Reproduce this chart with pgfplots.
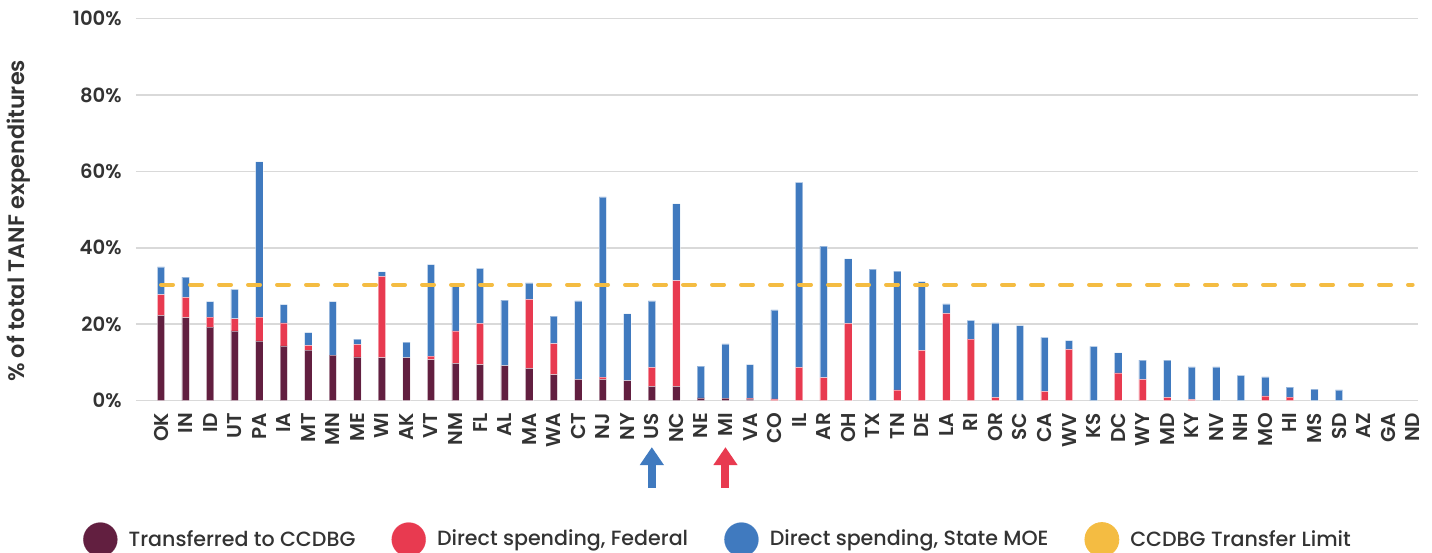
\documentclass[border=0pt]{standalone}
\usepackage{pgfplots}
\pgfplotsset{compat=1.18}
\usepackage{pgfplotstable}
\usetikzlibrary{arrows.meta}
\usepackage{fontspec}
\setmainfont{Poppins}[UprightFont=* Medium, BoldFont=* SemiBold]
\definecolor{cMaroon}{RGB}{98,31,64}
\definecolor{cRed}{RGB}{232,58,80}
\definecolor{cBlue}{RGB}{64,122,191}
\definecolor{cYellow}{RGB}{244,188,66}
\definecolor{cGrid}{RGB}{217,217,217}
\definecolor{cText}{RGB}{51,51,51}

\pgfplotstableread{
x T F S
0 22.3 5.4 7.3
1 21.7 5.3 5.3
2 19.2 2.6 4.1
3 18.2 3.2 7.7
4 15.6 6.2 40.7
5 14.3 6.0 4.8
6 13.2 1.2 3.4
7 11.9 0.0 14.0
8 11.4 3.3 1.4
9 11.2 21.3 1.2
10 11.2 0.0 4.1
11 10.7 0.9 24.0
12 9.7 8.5 11.9
13 9.4 10.8 14.4
14 9.1 0.0 17.2
15 8.4 18.1 4.3
16 6.8 8.1 7.2
17 5.5 0.0 20.6
18 5.5 0.6 47.2
19 5.2 0.0 17.5
20 3.7 5.0 17.4
21 3.7 27.7 20.1
22 0.7 0.0 8.3
23 0.6 0.0 14.2
24 0.4 0.2 8.8
25 0.0 0.4 23.3
26 0.0 8.7 48.4
27 0.0 6.0 34.4
28 0.0 20.2 16.9
29 0.0 0.0 34.4
30 0.0 2.8 31.1
31 0.0 13.1 18.0
32 0.0 22.8 2.5
33 0.0 16.1 4.9
34 0.0 0.8 19.5
35 0.0 0.0 19.6
36 0.0 2.4 14.1
37 0.0 13.4 2.3
38 0.0 0.0 14.2
39 0.0 7.2 5.3
40 0.0 5.5 5.1
41 0.0 0.8 9.8
42 0.0 0.3 8.5
43 0.0 0.0 8.8
44 0.0 0.0 6.6
45 0.0 1.2 5.0
46 0.0 0.9 2.6
47 0.0 0.0 3.0
48 0.0 0.0 2.8
49 0.0 0.0 0.0
50 0.0 0.0 0.0
51 0.0 0.0 0.0
}\data

\pgfplotsset{
  common/.style={
    scale only axis,
    width=641pt, height=191pt,
    xmin=-1.02, xmax=51.22,
    ymin=0, ymax=100,
  },
}

\begin{document}
\begin{tikzpicture}
\begin{axis}[
  common,
  name=ax,
  ybar stacked,
  bar width=0.3,
  clip=false,
  axis x line=none,
  axis y line*=left,
  y axis line style={draw=none},
  ymajorgrids,
  grid style={cGrid, line width=0.8pt},
  major tick length=0pt,
  ytick={0,20,40,60,80,100},
  yticklabels={0\%,20\%,40\%,60\%,80\%,100\%},
  yticklabel style={font=\fontsize{9.8}{11}\selectfont\bfseries, text=cText, inner sep=0pt, anchor=east, xshift=-7pt},
  ylabel={\% of total TANF expenditures},
  ylabel style={font=\fontsize{11.2}{13}\selectfont\bfseries, text=cText, at={(axis description cs:-0.0915,0.47)}, anchor=center},
  legend style={
    at={(axis description cs:-0.0413,-0.364)}, anchor=west,
    draw=none, fill=none, inner sep=0pt, outer sep=0pt,
    font=\fontsize{10.3}{12}\selectfont, text=cText,
    legend columns=4,
    nodes={inner sep=0pt},
    /tikz/every even column/.append style={column sep=18pt},
  },
  legend cell align=left,
]
\addplot[fill=cMaroon, draw=white, draw opacity=0.45, line width=0.3pt,
  legend image code/.code={\fill[cMaroon] (8.5pt,0pt) circle (8.5pt); \path (22.5pt,0pt);}]
  table[x=x, y=T]{\data};
\addlegendentry{Transferred to CCDBG}
\addplot[fill=cRed, draw=white, draw opacity=0.45, line width=0.3pt,
  legend image code/.code={\fill[cRed] (8.5pt,0pt) circle (8.5pt); \path (22.5pt,0pt);}]
  table[x=x, y=F]{\data};
\addlegendentry{Direct spending, Federal}
\addplot[fill=cBlue, draw=white, draw opacity=0.45, line width=0.3pt,
  legend image code/.code={\fill[cBlue] (8.5pt,0pt) circle (8.5pt); \path (22.5pt,0pt);}]
  table[x=x, y=S]{\data};
\addlegendentry{Direct spending, State MOE}
\addlegendimage{legend image code/.code={\fill[cYellow] (8.5pt,0pt) circle (8.5pt); \path (22.5pt,0pt);}}
\addlegendentry{CCDBG Transfer Limit}
% arrows under US and MI
\draw[cBlue, line width=4pt, -{Triangle[width=11.5pt,length=9pt]}] (axis cs:20,-22.9) -- (axis cs:20,-12.2);
\draw[cRed, line width=4pt, -{Triangle[width=11.5pt,length=9pt]}] (axis cs:23,-22.9) -- (axis cs:23,-12.2);
\end{axis}
\begin{axis}[
  common,
  axis lines=none,
]
\addplot[cYellow, line width=2pt, line cap=round, dash pattern=on 6pt off 8.5pt, sharp plot]
  coordinates {(0,30.3) (51,30.3)};
\end{axis}
\begin{axis}[
  common,
  axis y line=none,
  axis x line*=bottom,
  x axis line style={draw=none},
  major tick length=0pt,
  ytick=\empty,
  xtick={0,...,51},
  xticklabels={OK,IN,ID,UT,PA,IA,MT,MN,ME,WI,AK,VT,NM,FL,AL,MA,WA,CT,NJ,NY,US,NC,NE,MI,VA,CO,IL,AR,OH,TX,TN,DE,LA,RI,OR,SC,CA,WV,KS,DC,WY,MD,KY,NV,NH,MO,HI,MS,SD,AZ,GA,ND},
  xticklabel style={font=\fontsize{10}{11}\selectfont\bfseries, text=cText, rotate=90, anchor=east, inner sep=0pt},
  xticklabel shift=6pt,
]
\addplot[draw=none, forget plot] coordinates {(0,0)};
\end{axis}
\pgfresetboundingbox
\path ([shift={(-68pt,-76pt)}]ax.south west) rectangle ([shift={(7pt,9.25pt)}]ax.north east);
\end{tikzpicture}
\end{document}
